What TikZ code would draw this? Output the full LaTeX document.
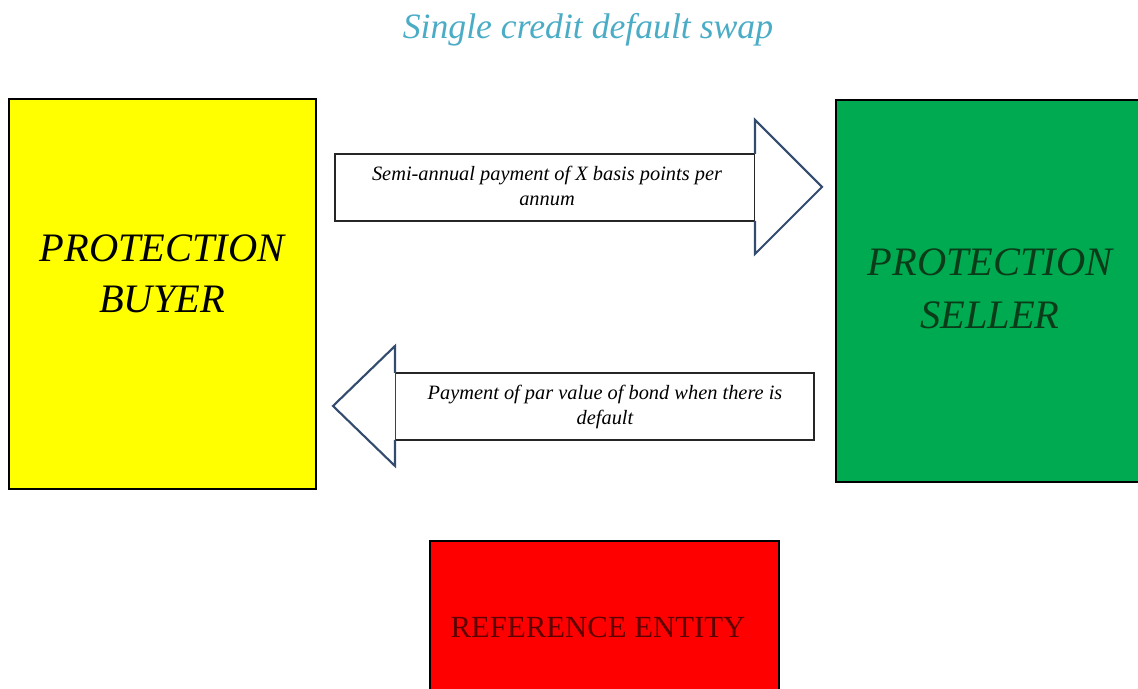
\documentclass[tikz,border=0pt]{standalone}
\usepackage{fontspec}
\setmainfont{Liberation Serif}
\usepackage{tikz}

\definecolor{titleblue}{RGB}{75,172,198}
\definecolor{buyeryellow}{RGB}{255,255,0}
\definecolor{sellergreen}{RGB}{0,170,80}
\definecolor{sellertext}{RGB}{10,60,25}
\definecolor{entityred}{RGB}{255,0,0}
\definecolor{entitytext}{RGB}{95,0,0}
\definecolor{headblue}{RGB}{50,75,110}

\tikzset{
  party/.style={draw=black, line width=1.1pt},
  partytext/.style={align=center, font=\fontsize{23}{29}\selectfont\itshape},
  flowtext/.style={align=center, font=\fontsize{11.6}{14}\selectfont\itshape},
  flowbody/.style={draw=black!85, line width=1pt, fill=white},
  flowhead/.style={draw=headblue, line width=1.2pt, fill=white, line join=miter},
}

\begin{document}
\begin{tikzpicture}[scale=1.0]
\useasboundingbox (0,0) rectangle (22.76,13.78);

\node[font=\fontsize{20.3}{24}\selectfont\itshape, text=titleblue] (title) at (11.76,13.18) {Single credit default swap};

% the three parties
\draw[party, fill=buyeryellow] (0.18,4.0) rectangle (6.32,11.8);
\node[partytext] (buyer) at (3.24,8.3) {PROTECTION\\BUYER};

\draw[party, fill=sellergreen] (16.72,4.14) rectangle (23.0,11.78);
\node[partytext, text=sellertext, font=\fontsize{23}{30}\selectfont\itshape] (seller) at (19.8,8.0) {PROTECTION\\SELLER};

\draw[party, fill=entityred] (8.6,-0.3) rectangle (15.58,2.96);
\node[font=\fontsize{17.5}{20}\selectfont, text=entitytext] (entity) at (11.96,1.24) {REFERENCE ENTITY};

% premium leg: buyer -> seller
\draw[flowbody] (6.7,9.36) rectangle (15.1,10.7);
\draw[flowhead] (15.1,10.7) -- (15.1,11.38) -- (16.44,10.04) -- (15.1,8.7) -- (15.1,9.36);
\node[flowtext] (premium) at (10.94,10.06) {Semi-annual payment of X basis points per\\annum};

% protection leg: seller -> buyer
\draw[flowbody] (7.9,4.98) rectangle (16.28,6.32);
\draw[flowhead] (7.9,6.32) -- (7.9,6.86) -- (6.66,5.66) -- (7.9,4.46) -- (7.9,4.98);
\node[flowtext] (payout) at (12.1,5.64) {Payment of par value of bond when there is\\default};
\end{tikzpicture}
\end{document}
